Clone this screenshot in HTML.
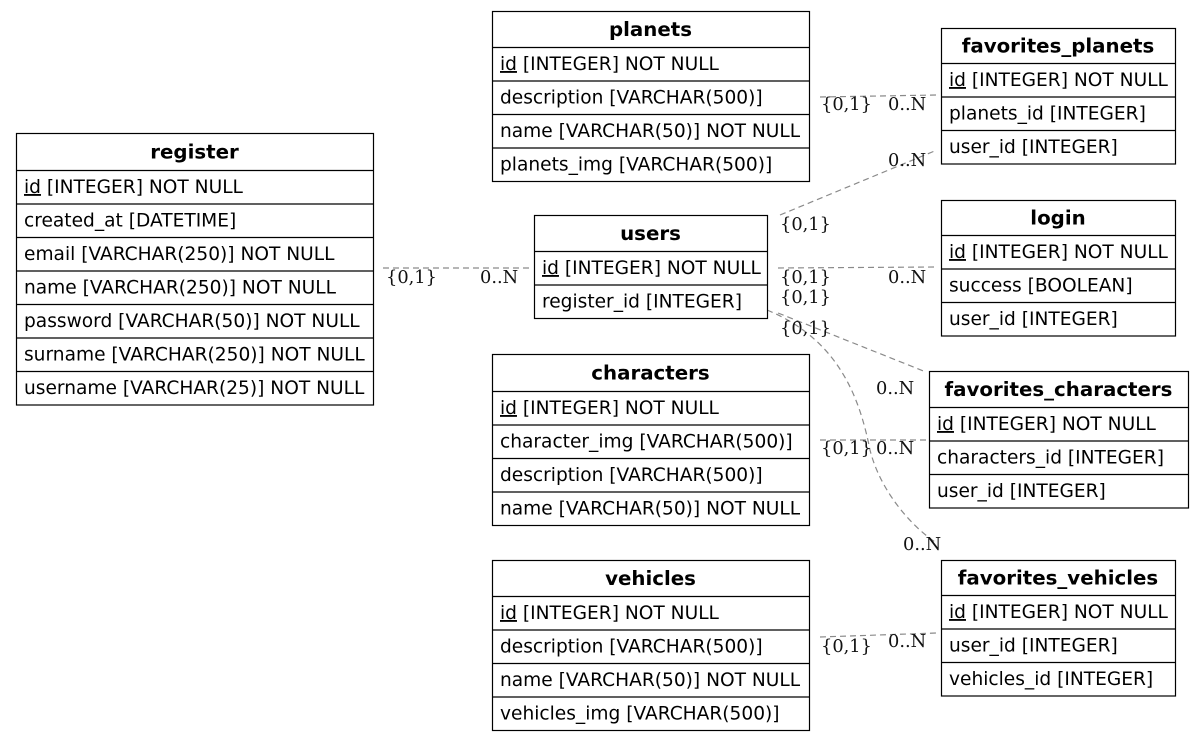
<!DOCTYPE html>
<html><head><meta charset="utf-8"><style>
html,body{margin:0;padding:0;background:#fff;width:1204px;height:741px;overflow:hidden}
svg text{font-family:"DejaVu Sans","Liberation Sans",sans-serif}
</style></head><body>
<svg id="erd" width="1204" height="741" xmlns="http://www.w3.org/2000/svg"></svg>
<script>
const tableNames=["register","users","planets","characters","vehicles","favorites_planets","login","favorites_characters","favorites_vehicles"];
const tableBoxes=[[16,133,357,37],[534,215,233,36],[492,11,317,36],[492,354,317,37],[492,560,317,36],[941,28,234,35],[941,200,234,35],[929,371,259,36],[941,560,234,35]];
const tableRows=[
 [["id"," [INTEGER] NOT NULL"],["","created_at [DATETIME]"],["","email [VARCHAR(250)] NOT NULL"],["","name [VARCHAR(250)] NOT NULL"],["","password [VARCHAR(50)] NOT NULL"],["","surname [VARCHAR(250)] NOT NULL"],["","username [VARCHAR(25)] NOT NULL"]],
 [["id"," [INTEGER] NOT NULL"],["","register_id [INTEGER]"]],
 [["id"," [INTEGER] NOT NULL"],["","description [VARCHAR(500)]"],["","name [VARCHAR(50)] NOT NULL"],["","planets_img [VARCHAR(500)]"]],
 [["id"," [INTEGER] NOT NULL"],["","character_img [VARCHAR(500)]"],["","description [VARCHAR(500)]"],["","name [VARCHAR(50)] NOT NULL"]],
 [["id"," [INTEGER] NOT NULL"],["","description [VARCHAR(500)]"],["","name [VARCHAR(50)] NOT NULL"],["","vehicles_img [VARCHAR(500)]"]],
 [["id"," [INTEGER] NOT NULL"],["","planets_id [INTEGER]"],["","user_id [INTEGER]"]],
 [["id"," [INTEGER] NOT NULL"],["","success [BOOLEAN]"],["","user_id [INTEGER]"]],
 [["id"," [INTEGER] NOT NULL"],["","characters_id [INTEGER]"],["","user_id [INTEGER]"]],
 [["id"," [INTEGER] NOT NULL"],["","user_id [INTEGER]"],["","vehicles_id [INTEGER]"]]
];
const edgePaths=["M383,268 L530,268","M820,97 L937,95","M780,215 L937,150","M778,268 L937,267","M778,313 L926,372","M767,310 C840,340 860,400 870,450 C880,490 910,525 935,542","M820,440 L926,440","M820,637 L937,633"];
const edgeLabels=[["{0,1}",386,283],["0..N",480,283],["{0,1}",821,110],["0..N",888,110],["{0,1}",780,230],["0..N",888,166],["{0,1}",780,283],["0..N",888,283],["{0,1}",780,303],["0..N",876,394],["{0,1}",780,334],["0..N",903,550],["{0,1}",821,454],["0..N",876,454],["{0,1}",821,652],["0..N",888,647]];
const NS="http://www.w3.org/2000/svg";
const svg=document.getElementById('erd');
function mk(t,a){const e=document.createElementNS(NS,t);for(const k in a)e.setAttribute(k,a[k]);return e;}
edgePaths.forEach((d,i)=>{
 const p=mk('path',{d:d,fill:'none',stroke:'#8a8a8a','stroke-width':1.2,'stroke-dasharray':'6,4'});
 
 
 svg.appendChild(p);
});
edgeLabels.forEach(l=>{
 const t=mk('text',{x:l[1],y:l[2],'font-size':17.8,fill:'#111'});
 t.style.fontFamily='"DejaVu Serif","Liberation Serif",serif';
 t.textContent=l[0];
 
 
 svg.appendChild(t);
});
const ROW=33.5;
tableNames.forEach((n,i)=>{
 const [x,y,w,hh]=tableBoxes[i];const rows=tableRows[i];
 const g=mk('g',{});
 
 
 const H=hh+rows.length*ROW;
 g.appendChild(mk('rect',{x:x+0.5,y:y+0.5,width:w,height:H,fill:'#fff',stroke:'#000','stroke-width':1.2}));
 const ht=mk('text',{x:x+w/2,y:y+hh/2+7,'text-anchor':'middle','font-size':19.8,'font-weight':'bold'});
 ht.textContent=n;
 
 
 g.appendChild(ht);
 rows.forEach((r,j)=>{
  const ry=y+hh+j*ROW;
  g.appendChild(mk('line',{x1:x,x2:x+w+1,y1:ry+0.5,y2:ry+0.5,stroke:'#000','stroke-width':1.2}));
  const t=mk('text',{x:x+8,y:ry+23,'font-size':18.6});
  
  
  if(r[0]){const s=mk('tspan',{'text-decoration':'underline'});s.textContent=r[0];t.appendChild(s);}
  t.appendChild(document.createTextNode(r[1]));
  g.appendChild(t);
 });
 svg.appendChild(g);
});
</script>
</body></html>
